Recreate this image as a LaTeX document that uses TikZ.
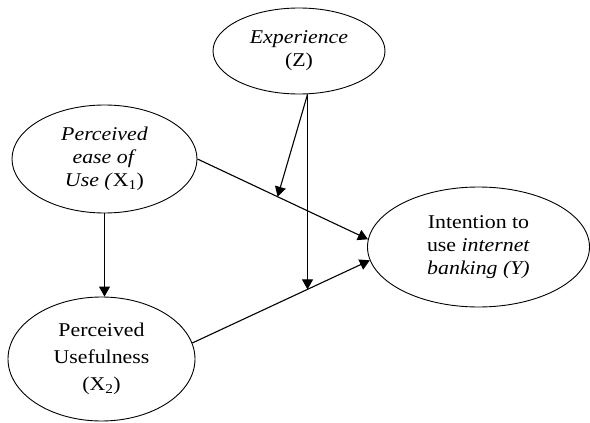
\documentclass[tikz,border=0pt]{standalone}
\usepackage{fontspec}
\setmainfont[FakeStretch=1.12]{Liberation Serif}
\usetikzlibrary{shapes.geometric,arrows.meta,calc}
\begin{document}
\begin{tikzpicture}[x=1pt,y=-1pt,
  construct/.style={draw, ellipse, line width=0.9pt, inner sep=0pt, align=center,
    font=\fontsize{19.5pt}{23pt}\selectfont},
  link/.style={draw, line width=1.1pt, -{Triangle[length=10pt,width=11pt]}},
  plainline/.style={draw, line width=1.1pt}]
\useasboundingbox (0,0) rectangle (590,423);
\node[construct, minimum width=172pt, minimum height=86pt] (z) at (299,51)
  {\textit{Experience}\\(Z)};
\node[construct, minimum width=185pt, minimum height=108pt] (x1) at (104.5,159)
  {\textit{Perceived}\\\textit{ease of}\\\textit{Use (}X\textsubscript{1})};
\node[construct, minimum width=187pt, minimum height=124pt,
  font=\fontsize{19.5pt}{27pt}\selectfont] (x2) at (101.5,359)
  {Perceived\\Usefulness\\(X\textsubscript{2})};
\node[construct, minimum width=222pt, minimum height=120pt] (y) at (478.5,247)
  {Intention to\\use \textit{internet}\\\textit{banking (Y)}};
\coordinate (m1) at ($(x1.east)!0.47!(y.176)$);
\coordinate (m2) at ($(x2.10)!0.649!(y.187)$);
\coordinate (zb) at (m2 |- z.south);
\draw[link] (x1.east) -- (y.176);
\draw[link] (x2.10) -- (y.187);
\draw[link] (x1.south) -- (x1.south |- x2.north);
\draw[link] (zb) -- (m1);
\draw[link] (zb) -- (m2);
\end{tikzpicture}
\end{document}
